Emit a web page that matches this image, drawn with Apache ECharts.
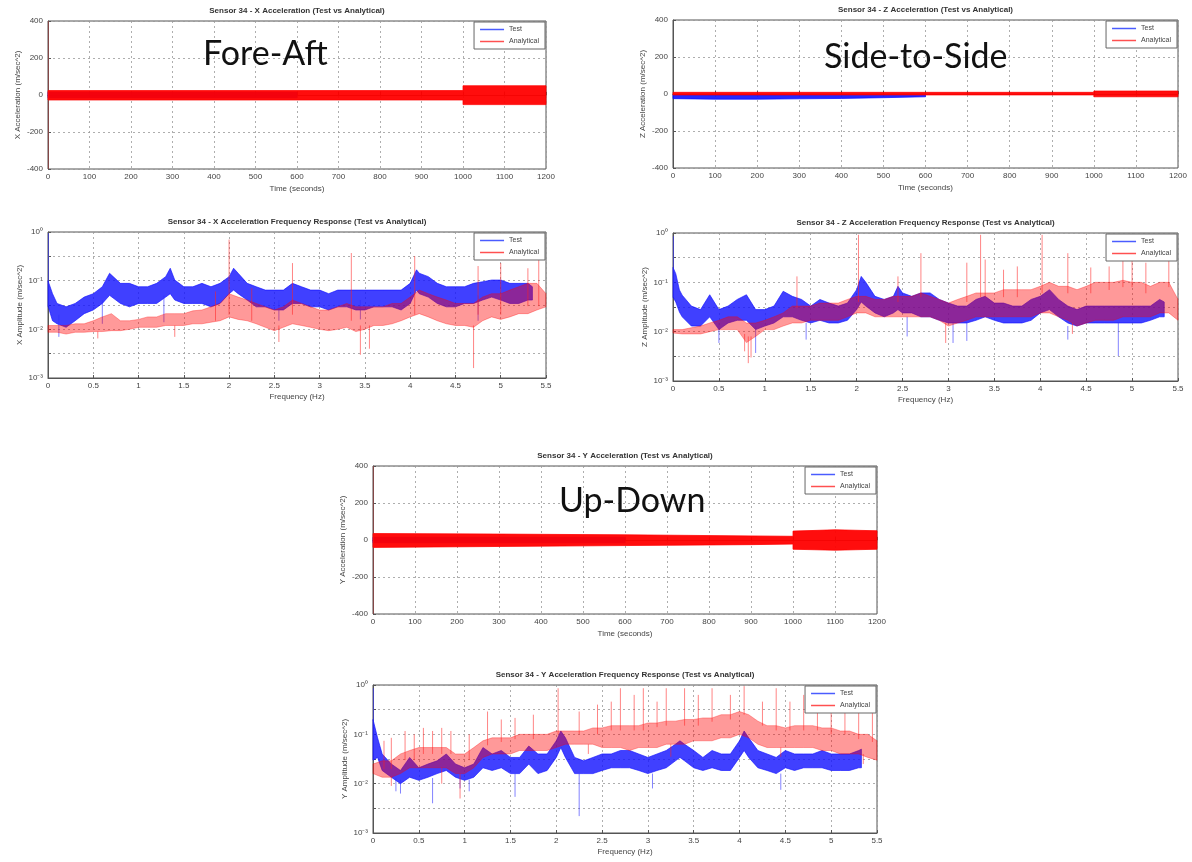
<!DOCTYPE html>
<html>
<head>
<meta charset="utf-8">
<script src="https://cdn.jsdelivr.net/npm/echarts@6/dist/echarts.min.js"></script>
<style>
  html, body { margin: 0; background: #fff; }
  #chart { width: 1192px; height: 862px; }
</style>
</head>
<body>
<div id="chart"></div>
<script>
var myChart = echarts.init(document.getElementById('chart'));

// ---- time histories: [time, low, high] envelope of the trace ----
var xTimeTest = [[0, -15, 15], [600, -15, 15]];
var xTimeAnalytical = [[0, -27, 24], [1000, -27, 24], [1000, -52, 50], [1200, -52, 50]];
var xTimeSpikes = [[1, -400, 400]];

var zTimeTest = [[0, -25, -3], [100, -28, -5], [200, -28, -5], [300, -26, -4], [400, -24, -3], [500, -20, -2], [600, -15, 0]];
var zTimeAnalytical = [[0, -5, 9], [1000, -5, 9], [1000, -15, 16], [1200, -15, 16]];
var zTimeSpikes = [];

var yTimeTest = [[0, -15, 15], [600, -15, 15]];
var yTimeAnalytical = [[0, -40, 35], [300, -35, 32], [600, -30, 28], [900, -25, 22], [1000, -22, 20],
  [1000, -50, 48], [1100, -55, 55], [1200, -50, 50]];
var yTimeSpikes = [[1, -400, 400]];

// ---- frequency responses: [freq, low, high] dense band ----
var xFreqTest = [
  [0, 0.03, 0.1], [0.05, 0.015, 0.054], [0.1, 0.013, 0.034], [0.2, 0.011, 0.029], [0.3, 0.015, 0.034],
  [0.4, 0.021, 0.046], [0.5, 0.025, 0.054], [0.6, 0.034, 0.075], [0.68, 0.05, 0.142], [0.8, 0.034, 0.088],
  [0.9, 0.029, 0.088], [1.0, 0.034, 0.075], [1.1, 0.034, 0.075], [1.2, 0.034, 0.088], [1.3, 0.046, 0.121],
  [1.35, 0.054, 0.18], [1.4, 0.04, 0.103], [1.5, 0.034, 0.075], [1.6, 0.034, 0.075], [1.7, 0.034, 0.088],
  [1.8, 0.029, 0.075], [1.9, 0.034, 0.088], [2.0, 0.054, 0.121], [2.05, 0.064, 0.18], [2.1, 0.054, 0.142],
  [2.2, 0.04, 0.088], [2.3, 0.029, 0.075], [2.4, 0.029, 0.064], [2.5, 0.025, 0.064], [2.6, 0.025, 0.064],
  [2.7, 0.034, 0.088], [2.8, 0.034, 0.075], [2.9, 0.029, 0.064], [3.0, 0.029, 0.064], [3.1, 0.025, 0.054],
  [3.2, 0.029, 0.064], [3.3, 0.029, 0.064], [3.4, 0.025, 0.064], [3.5, 0.025, 0.064], [3.6, 0.029, 0.064],
  [3.7, 0.029, 0.064], [3.8, 0.029, 0.064], [3.9, 0.025, 0.064], [4.0, 0.034, 0.088], [4.07, 0.064, 0.167],
  [4.1, 0.054, 0.142], [4.2, 0.046, 0.121], [4.3, 0.034, 0.088], [4.4, 0.029, 0.075], [4.5, 0.029, 0.075],
  [4.6, 0.034, 0.075], [4.7, 0.034, 0.088], [4.8, 0.04, 0.095], [4.9, 0.046, 0.103], [5.0, 0.04, 0.103],
  [5.1, 0.034, 0.088], [5.2, 0.034, 0.088], [5.3, 0.04, 0.088], [5.35, 0.04, 0.075]
];
var xFreqTestSpikes = [[0.005, 0.03, 0.95], [0.12, 0.007, 0.02], [0.6, 0.013, 0.04], [1.28, 0.014, 0.05],
  [2.55, 0.015, 0.04], [3.45, 0.016, 0.04], [4.75, 0.015, 0.05]];
var xFreqAnalytical = [
  [0, 0.0087, 0.012], [0.1, 0.0087, 0.012], [0.2, 0.008, 0.012], [0.3, 0.0087, 0.013], [0.4, 0.0087, 0.013],
  [0.5, 0.009, 0.015], [0.6, 0.009, 0.018], [0.7, 0.0094, 0.021], [0.8, 0.0094, 0.015], [0.9, 0.01, 0.015],
  [1.0, 0.011, 0.016], [1.1, 0.011, 0.018], [1.2, 0.011, 0.018], [1.3, 0.012, 0.021], [1.4, 0.012, 0.021],
  [1.5, 0.012, 0.021], [1.6, 0.013, 0.024], [1.7, 0.013, 0.025], [1.8, 0.014, 0.029], [1.9, 0.015, 0.034],
  [2.0, 0.018, 0.054], [2.1, 0.016, 0.046], [2.2, 0.015, 0.04], [2.3, 0.013, 0.034], [2.4, 0.011, 0.029],
  [2.5, 0.0094, 0.025], [2.6, 0.011, 0.029], [2.7, 0.013, 0.04], [2.8, 0.012, 0.034], [2.9, 0.011, 0.029],
  [3.0, 0.01, 0.025], [3.1, 0.0094, 0.025], [3.2, 0.01, 0.029], [3.3, 0.011, 0.034], [3.4, 0.009, 0.029],
  [3.5, 0.01, 0.029], [3.6, 0.012, 0.029], [3.7, 0.012, 0.029], [3.8, 0.013, 0.034], [3.9, 0.015, 0.034],
  [4.0, 0.018, 0.046], [4.1, 0.021, 0.064], [4.2, 0.018, 0.054], [4.3, 0.015, 0.046], [4.4, 0.013, 0.04],
  [4.5, 0.012, 0.034], [4.6, 0.012, 0.034], [4.7, 0.011, 0.034], [4.8, 0.015, 0.046], [4.9, 0.018, 0.054],
  [5.0, 0.016, 0.054], [5.1, 0.018, 0.064], [5.2, 0.021, 0.075], [5.3, 0.021, 0.088], [5.4, 0.025, 0.088],
  [5.5, 0.029, 0.054]
];
var xFreqAnalyticalSpikes = [[2.0, 0.02, 0.7], [2.7, 0.02, 0.23], [3.35, 0.015, 0.37], [4.05, 0.02, 0.32],
  [4.75, 0.02, 0.2], [5.0, 0.02, 0.23], [5.3, 0.03, 0.18], [5.42, 0.03, 0.27], [1.85, 0.015, 0.06],
  [2.25, 0.015, 0.07], [3.45, 0.003, 0.012], [3.55, 0.004, 0.012], [4.7, 0.0016, 0.012], [2.55, 0.0055, 0.012],
  [0.55, 0.0065, 0.009], [1.4, 0.007, 0.012]];

var zFreqTest = [
  [0, 0.05, 0.2], [0.03, 0.04, 0.15], [0.07, 0.025, 0.07], [0.1, 0.02, 0.055], [0.2, 0.013, 0.033],
  [0.3, 0.013, 0.028], [0.4, 0.02, 0.056], [0.5, 0.011, 0.028], [0.6, 0.015, 0.033], [0.7, 0.017, 0.045],
  [0.8, 0.017, 0.056], [0.9, 0.011, 0.028], [1.0, 0.013, 0.028], [1.1, 0.015, 0.033], [1.2, 0.02, 0.066],
  [1.3, 0.02, 0.052], [1.4, 0.017, 0.045], [1.5, 0.015, 0.033], [1.6, 0.017, 0.045], [1.7, 0.015, 0.038],
  [1.8, 0.015, 0.033], [1.9, 0.017, 0.038], [2.0, 0.028, 0.071], [2.05, 0.04, 0.132], [2.1, 0.033, 0.1],
  [2.2, 0.024, 0.052], [2.3, 0.02, 0.045], [2.4, 0.024, 0.052], [2.45, 0.028, 0.083], [2.5, 0.024, 0.061],
  [2.6, 0.024, 0.052], [2.7, 0.02, 0.061], [2.8, 0.02, 0.061], [2.9, 0.017, 0.045], [3.0, 0.015, 0.038],
  [3.1, 0.015, 0.033], [3.2, 0.015, 0.033], [3.3, 0.017, 0.045], [3.4, 0.02, 0.052], [3.5, 0.017, 0.038],
  [3.6, 0.015, 0.038], [3.7, 0.015, 0.033], [3.8, 0.015, 0.033], [3.9, 0.017, 0.045], [4.0, 0.024, 0.052],
  [4.1, 0.028, 0.071], [4.2, 0.02, 0.045], [4.3, 0.015, 0.033], [4.4, 0.013, 0.028], [4.5, 0.015, 0.033],
  [4.6, 0.015, 0.033], [4.7, 0.015, 0.033], [4.8, 0.015, 0.033], [4.9, 0.015, 0.033], [5.0, 0.015, 0.033],
  [5.1, 0.015, 0.033], [5.2, 0.017, 0.033], [5.3, 0.02, 0.045], [5.35, 0.02, 0.04]
];
var zFreqTestSpikes = [[0.005, 0.05, 0.86], [0.5, 0.0059, 0.015], [0.9, 0.0037, 0.013], [1.45, 0.0069, 0.015],
  [3.05, 0.0059, 0.015], [3.2, 0.0065, 0.015], [4.85, 0.0032, 0.015], [4.3, 0.0069, 0.013], [2.55, 0.008, 0.02]];
var zFreqAnalytical = [
  [0, 0.0094, 0.011], [0.1, 0.009, 0.011], [0.2, 0.009, 0.012], [0.3, 0.009, 0.013], [0.4, 0.01, 0.015],
  [0.5, 0.011, 0.017], [0.6, 0.011, 0.02], [0.7, 0.011, 0.02], [0.8, 0.006, 0.015], [0.9, 0.008, 0.015],
  [1.0, 0.011, 0.017], [1.1, 0.011, 0.02], [1.2, 0.013, 0.024], [1.3, 0.015, 0.033], [1.4, 0.015, 0.033],
  [1.5, 0.017, 0.033], [1.6, 0.017, 0.038], [1.7, 0.017, 0.038], [1.8, 0.017, 0.038], [1.9, 0.02, 0.045],
  [2.0, 0.024, 0.052], [2.1, 0.024, 0.052], [2.2, 0.02, 0.045], [2.3, 0.02, 0.045], [2.4, 0.02, 0.052],
  [2.5, 0.02, 0.052], [2.6, 0.02, 0.052], [2.7, 0.02, 0.061], [2.8, 0.02, 0.052], [2.9, 0.017, 0.045],
  [3.0, 0.013, 0.038], [3.1, 0.015, 0.045], [3.2, 0.017, 0.052], [3.3, 0.02, 0.061], [3.4, 0.02, 0.061],
  [3.5, 0.02, 0.061], [3.6, 0.02, 0.071], [3.7, 0.02, 0.071], [3.8, 0.02, 0.071], [3.9, 0.02, 0.071],
  [4.0, 0.024, 0.083], [4.1, 0.024, 0.1], [4.2, 0.02, 0.083], [4.3, 0.017, 0.083], [4.4, 0.013, 0.071],
  [4.5, 0.015, 0.083], [4.6, 0.017, 0.1], [4.7, 0.017, 0.1], [4.8, 0.017, 0.1], [4.9, 0.02, 0.11],
  [5.0, 0.02, 0.1], [5.1, 0.02, 0.1], [5.2, 0.02, 0.083], [5.3, 0.024, 0.1], [5.4, 0.024, 0.1],
  [5.5, 0.017, 0.045]
];
var zFreqAnalyticalSpikes = [[1.35, 0.03, 0.132], [2.02, 0.04, 0.92], [2.45, 0.04, 0.132], [2.7, 0.05, 0.39],
  [3.2, 0.04, 0.25], [3.35, 0.05, 0.92], [3.4, 0.05, 0.29], [3.6, 0.05, 0.18], [3.75, 0.05, 0.21],
  [4.02, 0.06, 0.92], [4.3, 0.06, 0.39], [4.55, 0.06, 0.2], [4.75, 0.07, 0.21], [4.9, 0.08, 0.46],
  [5.0, 0.08, 0.46], [5.15, 0.06, 0.25], [5.4, 0.08, 0.63], [0.82, 0.0023, 0.008], [0.85, 0.003, 0.008],
  [0.78, 0.004, 0.009], [2.97, 0.0059, 0.015], [4.35, 0.009, 0.015]];

var yFreqTest = [
  [0, 0.03, 0.2], [0.05, 0.034, 0.085], [0.1, 0.0185, 0.04], [0.2, 0.0135, 0.025], [0.3, 0.01, 0.0185],
  [0.4, 0.0135, 0.034], [0.5, 0.0117, 0.021], [0.6, 0.0135, 0.025], [0.7, 0.016, 0.029], [0.8, 0.0185, 0.04],
  [0.9, 0.0135, 0.025], [1.0, 0.0117, 0.021], [1.1, 0.0135, 0.025], [1.2, 0.021, 0.054], [1.3, 0.0185, 0.04],
  [1.4, 0.021, 0.047], [1.5, 0.016, 0.034], [1.6, 0.016, 0.034], [1.7, 0.025, 0.058], [1.8, 0.016, 0.04],
  [1.9, 0.0185, 0.04], [2.0, 0.034, 0.074], [2.05, 0.054, 0.117], [2.1, 0.034, 0.085], [2.2, 0.016, 0.034],
  [2.3, 0.016, 0.029], [2.4, 0.016, 0.034], [2.5, 0.0185, 0.04], [2.6, 0.021, 0.04], [2.7, 0.021, 0.047],
  [2.8, 0.021, 0.047], [2.9, 0.0185, 0.04], [3.0, 0.016, 0.034], [3.1, 0.0185, 0.04], [3.2, 0.021, 0.047],
  [3.3, 0.029, 0.063], [3.35, 0.034, 0.074], [3.4, 0.029, 0.063], [3.5, 0.021, 0.047], [3.6, 0.0185, 0.034],
  [3.7, 0.021, 0.047], [3.8, 0.0185, 0.04], [3.9, 0.0185, 0.04], [4.0, 0.034, 0.074], [4.05, 0.047, 0.117],
  [4.1, 0.034, 0.085], [4.2, 0.021, 0.047], [4.3, 0.0185, 0.04], [4.4, 0.016, 0.034], [4.5, 0.021, 0.047],
  [4.6, 0.0185, 0.04], [4.7, 0.021, 0.04], [4.8, 0.021, 0.04], [4.9, 0.021, 0.047], [5.0, 0.0185, 0.04],
  [5.1, 0.0185, 0.04], [5.2, 0.0185, 0.04], [5.3, 0.021, 0.047], [5.33, 0.021, 0.05]
];
var yFreqTestSpikes = [[0.005, 0.03, 0.86], [0.3, 0.0063, 0.012], [0.25, 0.007, 0.013], [0.65, 0.004, 0.013],
  [1.55, 0.0054, 0.016], [2.25, 0.0022, 0.016], [1.05, 0.007, 0.012], [3.05, 0.008, 0.016],
  [4.45, 0.0075, 0.016], [0.95, 0.008, 0.013]];
var yFreqAnalytical = [
  [0, 0.016, 0.025], [0.1, 0.0135, 0.029], [0.2, 0.0135, 0.029], [0.3, 0.016, 0.04], [0.4, 0.021, 0.047],
  [0.5, 0.021, 0.054], [0.6, 0.021, 0.054], [0.7, 0.021, 0.054], [0.8, 0.021, 0.054], [0.9, 0.016, 0.04],
  [1.0, 0.016, 0.04], [1.1, 0.021, 0.054], [1.2, 0.034, 0.074], [1.3, 0.04, 0.085], [1.4, 0.04, 0.085],
  [1.5, 0.04, 0.085], [1.6, 0.047, 0.1], [1.7, 0.047, 0.1], [1.8, 0.047, 0.1], [1.9, 0.047, 0.1],
  [2.0, 0.054, 0.117], [2.1, 0.063, 0.117], [2.2, 0.063, 0.117], [2.3, 0.063, 0.117], [2.4, 0.063, 0.135],
  [2.5, 0.054, 0.135], [2.6, 0.054, 0.15], [2.7, 0.054, 0.15], [2.8, 0.047, 0.15], [2.9, 0.054, 0.15],
  [3.0, 0.054, 0.17], [3.1, 0.054, 0.17], [3.2, 0.063, 0.185], [3.3, 0.063, 0.185], [3.4, 0.063, 0.2],
  [3.5, 0.074, 0.2], [3.6, 0.074, 0.215], [3.7, 0.074, 0.215], [3.8, 0.085, 0.25], [3.9, 0.085, 0.25],
  [4.0, 0.1, 0.29], [4.1, 0.085, 0.25], [4.2, 0.063, 0.185], [4.3, 0.054, 0.15], [4.4, 0.054, 0.15],
  [4.5, 0.054, 0.135], [4.6, 0.054, 0.15], [4.7, 0.054, 0.15], [4.8, 0.054, 0.15], [4.9, 0.047, 0.135],
  [5.0, 0.047, 0.135], [5.1, 0.04, 0.117], [5.2, 0.04, 0.117], [5.3, 0.04, 0.1], [5.4, 0.034, 0.1],
  [5.5, 0.03, 0.074]
];
var yFreqAnalyticalSpikes = [[0.12, 0.02, 0.074], [0.2, 0.02, 0.085], [0.35, 0.03, 0.117], [0.45, 0.03, 0.1],
  [0.55, 0.04, 0.135], [0.65, 0.04, 0.117], [0.75, 0.04, 0.135], [0.85, 0.04, 0.117], [1.05, 0.03, 0.1],
  [1.25, 0.06, 0.29], [1.4, 0.07, 0.2], [1.55, 0.08, 0.215], [1.75, 0.08, 0.25], [2.02, 0.1, 0.86],
  [2.25, 0.1, 0.29], [2.45, 0.1, 0.4], [2.6, 0.12, 0.46], [2.7, 0.12, 0.86], [2.85, 0.12, 0.63],
  [2.95, 0.12, 0.86], [3.1, 0.14, 0.46], [3.2, 0.15, 0.86], [3.4, 0.15, 0.86], [3.55, 0.15, 0.63],
  [3.7, 0.18, 0.86], [3.9, 0.2, 0.63], [4.05, 0.25, 0.95], [4.25, 0.15, 0.46], [4.4, 0.12, 0.86],
  [4.55, 0.12, 0.46], [4.7, 0.12, 0.63], [4.85, 0.12, 0.46], [5.0, 0.1, 0.63], [5.15, 0.1, 0.4],
  [5.3, 0.08, 0.46], [5.45, 0.07, 0.29], [0.95, 0.005, 0.016], [0.2, 0.009, 0.014], [0.75, 0.01, 0.021],
  [2.35, 0.04, 0.063], [3.25, 0.035, 0.063], [4.45, 0.035, 0.054], [5.35, 0.025, 0.04]];

var logTicks = { '0': '10⁰', '-1': '10⁻¹', '-2': '10⁻²', '-3': '10⁻³' };

// 每个子图的位置和文字
var panels = [
  { left: 48, top: 21, width: 498, height: 148, kind: 'time', axis: 'X',
    test: xTimeTest, ana: xTimeAnalytical, testSpk: [], anaSpk: xTimeSpikes },
  { left: 48, top: 232, width: 498, height: 146, kind: 'freq', axis: 'X',
    test: xFreqTest, ana: xFreqAnalytical, testSpk: xFreqTestSpikes, anaSpk: xFreqAnalyticalSpikes },
  { left: 673, top: 20, width: 505, height: 148, kind: 'time', axis: 'Z',
    test: zTimeTest, ana: zTimeAnalytical, testSpk: [], anaSpk: zTimeSpikes },
  { left: 673, top: 233, width: 505, height: 148, kind: 'freq', axis: 'Z',
    test: zFreqTest, ana: zFreqAnalytical, testSpk: zFreqTestSpikes, anaSpk: zFreqAnalyticalSpikes },
  { left: 373, top: 466, width: 504, height: 148, kind: 'time', axis: 'Y',
    test: yTimeTest, ana: yTimeAnalytical, testSpk: [], anaSpk: yTimeSpikes },
  { left: 373, top: 685, width: 504, height: 148, kind: 'freq', axis: 'Y',
    test: yFreqTest, ana: yFreqAnalytical, testSpk: yFreqTestSpikes, anaSpk: yFreqAnalyticalSpikes }
];

var axisColor = '#555';
var labelStyle = { fontSize: 8, color: '#444', fontFamily: 'Liberation Sans' };

// 一条带状曲线（用多边形画出上下包络之间的区域）
function bandSeries(gi, name, pts, color, opacity) {
  return {
    type: 'custom', name: name, xAxisIndex: gi, yAxisIndex: gi, silent: true,
    data: pts, encode: { x: 0, y: [1, 2] }, itemStyle: { color: color },
    renderItem: function (params, api) {
      if (params.dataIndex !== 0) return null;
      var up = pts.map(function (p) { return api.coord([p[0], p[2]]); });
      var lo = pts.map(function (p) { return api.coord([p[0], p[1]]); }).reverse();
      return {
        type: 'polygon', shape: { points: up.concat(lo) },
        style: { fill: color, stroke: color, lineWidth: 0.8, opacity: opacity }
      };
    }
  };
}

// 尖峰 / 下探：竖直线段
function spikeSeries(gi, pts, color, opacity) {
  return {
    type: 'custom', xAxisIndex: gi, yAxisIndex: gi, silent: true,
    data: pts, encode: { x: 0, y: [1, 2] },
    renderItem: function (params, api) {
      var a = api.coord([api.value(0), api.value(1)]);
      var b = api.coord([api.value(0), api.value(2)]);
      return {
        type: 'line', shape: { x1: a[0], y1: a[1], x2: b[0], y2: b[1] },
        style: { stroke: color, lineWidth: 1, opacity: opacity }
      };
    }
  };
}

var grids = [], xAxes = [], yAxes = [], series = [], titles = [], legends = [];

panels.forEach(function (p, i) {
  var isTime = p.kind === 'time';
  grids.push({ left: p.left, top: p.top, width: p.width, height: p.height,
    show: true, borderColor: axisColor, borderWidth: 1, backgroundColor: '#fff' });

  var split = { show: true, lineStyle: { type: [2, 3], color: '#999', width: 0.8 } };
  xAxes.push({
    gridIndex: i, type: 'value',
    min: 0, max: isTime ? 1200 : 5.5, interval: isTime ? 100 : 0.5,
    name: isTime ? 'Time (seconds)' : 'Frequency (Hz)',
    nameLocation: 'middle', nameGap: isTime ? 16 : 15,
    nameTextStyle: { fontSize: 8, color: '#444', fontFamily: 'Liberation Sans' },
    axisLine: { lineStyle: { color: axisColor } },
    axisTick: { inside: true, length: 3, lineStyle: { color: axisColor } },
    axisLabel: Object.assign({ margin: 4, formatter: function (v) { return String(v); } }, labelStyle),
    splitLine: split
  });

  if (isTime) {
    yAxes.push({
      gridIndex: i, type: 'value', min: -400, max: 400, interval: 200,
      name: p.axis + ' Acceleration (m/sec^2)', nameLocation: 'middle', nameGap: 26,
      nameTextStyle: { fontSize: 8, color: '#444', fontFamily: 'Liberation Sans' },
      axisLine: { lineStyle: { color: axisColor } },
      axisTick: { inside: true, length: 3, lineStyle: { color: axisColor } },
      axisLabel: Object.assign({ margin: 5 }, labelStyle),
      splitLine: split
    });
  } else {
    yAxes.push({
      gridIndex: i, type: 'log', logBase: 10, min: 0.001, max: 1, interval: 0.5,
      name: p.axis + ' Amplitude (m/sec^2)', nameLocation: 'middle', nameGap: 24,
      nameTextStyle: { fontSize: 8, color: '#444', fontFamily: 'Liberation Sans' },
      axisLine: { lineStyle: { color: axisColor } },
      axisTick: { inside: true, length: 3, lineStyle: { color: axisColor } },
      axisLabel: Object.assign({ margin: 5, formatter: function (v) {
        var e = Math.log10(v), r = Math.round(e);
        return Math.abs(e - r) < 1e-6 ? (logTicks[String(r)] || '') : '';
      } }, labelStyle),
      splitLine: split
    });
  }

  series.push(bandSeries(i, 'Test', p.test, '#1010ff', isTime ? 0.9 : 0.8));
  series.push(spikeSeries(i, p.testSpk, '#3030ff', 0.6));
  series.push(bandSeries(i, 'Analytical', p.ana, '#ff0000', isTime ? 0.95 : 0.4));
  series.push(spikeSeries(i, p.anaSpk, '#ff2020', isTime ? 0.3 : 0.55));

  titles.push({
    text: 'Sensor 34 - ' + p.axis + ' Acceleration' + (isTime ? '' : ' Frequency Response') + ' (Test vs Analytical)',
    left: p.left + p.width / 2, top: p.top - 14, textAlign: 'center', padding: 0,
    textStyle: { fontSize: 8, fontWeight: 'bold', color: '#333', fontFamily: 'Liberation Sans' }
  });

  legends.push({
    data: [{ name: 'Test', itemStyle: { color: '#4a5cff' } }, { name: 'Analytical', itemStyle: { color: '#ff5050' } }],
    right: 1192 - p.left - p.width + 1, top: p.top + 1,
    orient: 'vertical', icon: 'rect', itemWidth: 24, itemHeight: 1.5, itemGap: 5,
    padding: [4, 6, 4, 6], borderColor: '#666', borderWidth: 1, backgroundColor: '#fff',
    selectedMode: false,
    textStyle: { fontSize: 7, color: '#444', fontFamily: 'Liberation Sans' }
  });
});

option = {
  animation: false,
  backgroundColor: '#fff',
  title: titles,
  legend: legends,
  grid: grids,
  xAxis: xAxes,
  yAxis: yAxes,
  series: series,
  graphic: [
    { type: 'text', left: 203, top: 37, z: 100,
      style: { text: 'Fore-Aft', fontSize: 34, fontFamily: 'Lato', fill: '#111' } },
    { type: 'text', left: 824, top: 40, z: 100,
      style: { text: 'Side-to-Side', fontSize: 34, fontFamily: 'Lato', fill: '#111' } },
    { type: 'text', left: 559, top: 484, z: 100,
      style: { text: 'Up-Down', fontSize: 34, fontFamily: 'Lato', fill: '#111' } }
  ]
};

myChart.setOption(option);
</script>
</body>
</html>
